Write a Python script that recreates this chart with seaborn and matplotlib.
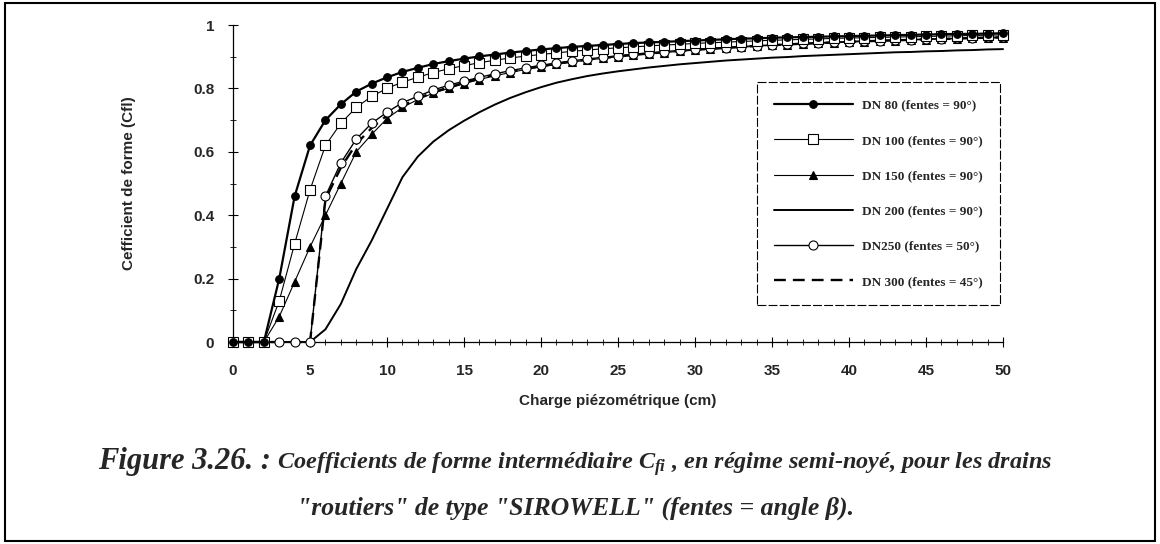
import matplotlib
matplotlib.use("Agg")
import matplotlib.pyplot as plt
from matplotlib.ticker import MultipleLocator
from matplotlib.patches import Rectangle
import seaborn as sns

# Piezometric head (cm)
charge_cm = list(range(0, 51))

dn80 = [0, 0, 0, 0.20, 0.46, 0.62, 0.70, 0.75, 0.79, 0.815, 0.835,
        0.852, 0.865, 0.877, 0.886, 0.894, 0.901, 0.907, 0.913, 0.918, 0.923,
        0.927, 0.931, 0.934, 0.937, 0.940, 0.943, 0.945, 0.947, 0.949, 0.951,
        0.953, 0.955, 0.957, 0.958, 0.960, 0.961, 0.962, 0.963, 0.964, 0.965,
        0.966, 0.967, 0.968, 0.969, 0.970, 0.971, 0.972, 0.972, 0.973, 0.974]

dn100 = [0, 0, 0, 0.13, 0.31, 0.48, 0.62, 0.69, 0.74, 0.775, 0.80,
         0.82, 0.835, 0.85, 0.862, 0.872, 0.881, 0.889, 0.896, 0.902, 0.907,
         0.912, 0.917, 0.921, 0.925, 0.928, 0.931, 0.934, 0.937, 0.939, 0.942,
         0.944, 0.946, 0.948, 0.950, 0.952, 0.953, 0.955, 0.956, 0.958, 0.959,
         0.960, 0.961, 0.962, 0.963, 0.964, 0.965, 0.966, 0.967, 0.968, 0.969]

dn150 = [0, 0, 0, 0.08, 0.19, 0.30, 0.40, 0.50, 0.60, 0.655, 0.705,
         0.74, 0.765, 0.785, 0.80, 0.815, 0.828, 0.84, 0.85, 0.86, 0.868,
         0.876, 0.883, 0.889, 0.895, 0.90, 0.905, 0.909, 0.913, 0.917, 0.921,
         0.924, 0.927, 0.930, 0.933, 0.936, 0.938, 0.940, 0.942, 0.944, 0.946,
         0.948, 0.950, 0.951, 0.953, 0.954, 0.956, 0.957, 0.958, 0.959, 0.960]

dn200 = [0, 0, 0, 0, 0, 0, 0.04, 0.12, 0.23, 0.32, 0.42,
         0.52, 0.585, 0.632, 0.668, 0.698, 0.725, 0.749, 0.770, 0.788, 0.804,
         0.818, 0.829, 0.839, 0.847, 0.854, 0.860, 0.866, 0.871, 0.876, 0.880,
         0.884, 0.888, 0.891, 0.894, 0.897, 0.899, 0.902, 0.904, 0.906, 0.908,
         0.910, 0.912, 0.914, 0.915, 0.917, 0.918, 0.920, 0.921, 0.923, 0.924]

dn250 = [0, 0, 0, 0, 0, 0, 0.46, 0.565, 0.64, 0.69, 0.725,
         0.755, 0.775, 0.795, 0.81, 0.823, 0.835, 0.846, 0.856, 0.865, 0.873,
         0.880, 0.887, 0.893, 0.898, 0.903, 0.908, 0.912, 0.916, 0.920, 0.923,
         0.926, 0.929, 0.932, 0.935, 0.937, 0.940, 0.942, 0.944, 0.946, 0.948,
         0.950, 0.951, 0.953, 0.954, 0.956, 0.957, 0.958, 0.960, 0.961, 0.962]

dn300 = [0, 0, 0, 0, 0, 0, 0.45, 0.55, 0.625, 0.675, 0.715,
         0.745, 0.768, 0.788, 0.803, 0.818, 0.831, 0.843, 0.853, 0.862, 0.870,
         0.878, 0.885, 0.891, 0.896, 0.901, 0.906, 0.910, 0.914, 0.918, 0.922,
         0.925, 0.928, 0.931, 0.934, 0.936, 0.939, 0.941, 0.943, 0.945, 0.947,
         0.949, 0.950, 0.952, 0.953, 0.955, 0.956, 0.957, 0.959, 0.960, 0.961]

series_labels = ["DN 80 (fentes = 90°)", "DN 100 (fentes = 90°)",
                 "DN 150 (fentes = 90°)", "DN 200 (fentes = 90°)",
                 "DN250 (fentes = 50°)", "DN 300 (fentes = 45°)"]

x_ticks = [0, 5, 10, 15, 20, 25, 30, 35, 40, 45, 50]
y_ticks = [0, 0.2, 0.4, 0.6, 0.8, 1.0]
y_tick_labels = ["0", "0.2", "0.4", "0.6", "0.8", "1"]

sns.set_style("ticks")
plt.rcParams["font.family"] = ["Liberation Sans", "DejaVu Sans"]
plt.rcParams["mathtext.fontset"] = "custom"
plt.rcParams["mathtext.it"] = "Liberation Serif:bold:italic"
plt.rcParams["mathtext.rm"] = "Liberation Serif:bold:italic"
plt.rcParams["mathtext.bf"] = "Liberation Serif:bold:italic"

fig = plt.figure(figsize=(11.6, 5.44), dpi=100)
ax = fig.add_axes([0.2009, 0.3713, 0.6638, 0.5827])

styles = [
    dict(lw=1.6, ls="-", marker="o", ms=5.5, mfc="black", mec="black", mew=0.8, zorder=6),
    dict(lw=0.8, ls="-", marker="s", ms=7, mfc="white", mec="black", mew=0.8, zorder=5),
    dict(lw=0.8, ls="-", marker="^", ms=5.5, mfc="black", mec="black", mew=0.8, zorder=3),
    dict(lw=1.4, ls="-", marker="", zorder=2),
    dict(lw=1.0, ls="-", marker="o", ms=6.5, mfc="white", mec="black", mew=0.8, zorder=4),
    dict(lw=1.7, ls=(0, (5, 3)), marker="", zorder=2),
]
values = [dn80, dn100, dn150, dn200, dn250, dn300]

for vals, lab, st in zip(values, series_labels, styles):
    sns.lineplot(x=charge_cm, y=vals, ax=ax, color="black", label=lab,
                 clip_on=False, **st)

ax.set_xlim(0, 50)
ax.set_ylim(0, 1)
ax.set_xticks(x_ticks)
ax.set_xticklabels([str(t) for t in x_ticks])
ax.set_yticks(y_ticks)
ax.set_yticklabels(y_tick_labels)
ax.xaxis.set_minor_locator(MultipleLocator(1))
ax.yaxis.set_minor_locator(MultipleLocator(0.1))

for side in ("top", "right"):
    ax.spines[side].set_visible(False)
for side in ("left", "bottom"):
    ax.spines[side].set_linewidth(0.9)
    ax.spines[side].set_color("black")

ax.tick_params(which="major", direction="inout", length=7, width=0.8, color="black")
ax.tick_params(which="minor", direction="inout", length=4, width=0.6, color="black")
ax.tick_params(axis="y", which="major", pad=10)
ax.tick_params(axis="x", which="major", pad=12)
for lbl in ax.get_xticklabels() + ax.get_yticklabels():
    lbl.set_fontweight("bold")
    lbl.set_fontsize(11)

ax.set_xlabel("Charge piézométrique (cm)", fontsize=11, fontweight="bold", labelpad=12)
ax.set_ylabel("Cefficient de forme (Cfl)", fontsize=11, fontweight="bold", labelpad=41)

leg = ax.legend(loc="upper left", bbox_to_anchor=(0.68, 0.82), borderaxespad=0,
                prop=dict(family="Liberation Serif", weight="bold", size=9.5),
                handlelength=6.0, handletextpad=0.7, labelspacing=1.75,
                borderpad=1.3, numpoints=1, fancybox=False, framealpha=1,
                edgecolor="black")
leg.get_frame().set_linewidth(0.8)
leg.get_frame().set_linestyle((0, (8, 2)))

# Caption under the chart, two lines
cap_font = dict(family="Liberation Serif", weight="bold", style="italic")
t1a = fig.text(0, 0, "Figure 3.26. :", fontsize=22, **cap_font, va="baseline")
t1b = fig.text(0, 0, " Coefficients de forme intermédiaire $C_{fi}$ , en régime semi-noyé, pour les drains",
               fontsize=17.5, **cap_font, va="baseline")
t2 = fig.text(0, 0, "\"routiers\" de type \"SIROWELL\" (fentes = angle β).",
              fontsize=18.5, **cap_font, va="baseline", ha="center")

fig.canvas.draw()
r = fig.canvas.get_renderer()
W = fig.bbox.width
wa = t1a.get_window_extent(r).width / W
wb = t1b.get_window_extent(r).width / W
cx = 0.496
x0 = cx - (wa + wb) / 2
base1 = 1 - 469 / 544
t1a.set_position((x0, base1))
t1b.set_position((x0 + wa, base1))
t2.set_position((cx, 1 - 515 / 544))

fig.add_artist(Rectangle((0.004, 0.006), 0.992, 0.988, transform=fig.transFigure,
                         fill=False, lw=1.5, ec="black"))

fig.savefig("out.png", dpi=100)
